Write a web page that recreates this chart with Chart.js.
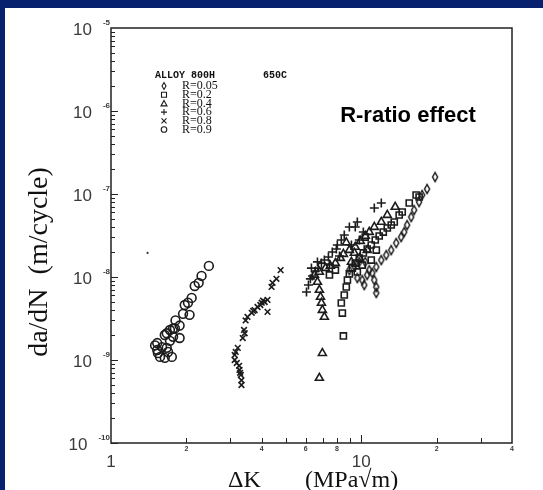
<!DOCTYPE html>
<html lang="en">
<head>
  <meta charset="UTF-8">
  <title>Alloy 800H - R-ratio effect</title>
  <script src="https://cdn.jsdelivr.net/npm/chart.js"></script>
  <style>
    html, body { margin: 0; padding: 0; }
    body { width: 543px; height: 490px; background: #07216f; position: relative; overflow: hidden; }
    #panel { position: absolute; left: 5px; top: 8px; right: 0; bottom: 0; background: #fff; }
    #chart { position: absolute; left: 0; top: 0; }
  </style>
</head>
<body>
  <div id="panel"></div>
  <canvas id="chart" width="543" height="490"></canvas>

  <script>
    // delta K (MPa*sqrt(m)) and da/dN (m/cycle) per R ratio
    const r005K    = [19.72, 18.32, 17.50, 17.02, 16.26, 15.83, 15.25, 14.84, 14.43, 13.79, 13.17, 12.58, 12.02, 11.48, 11.06, 11.27, 11.48, 11.48, 10.28, 10.09, 10.76, 10.56, 10.37, 9.82, 9.38, 8.96, 9.64];
    const r005Rate = [1.6e-7, 1.15e-7, 9.73e-8, 8.0e-8, 6.41e-8, 5.28e-8, 4.23e-8, 3.48e-8, 3.03e-8, 2.57e-8, 2.11e-8, 1.84e-8, 1.6e-8, 1.32e-8, 1.12e-8, 9.2e-9, 7.58e-9, 6.42e-9, 8.0e-9, 9.2e-9, 1.21e-8, 1.06e-8, 1.52e-8, 1.52e-8, 1.36e-8, 1.21e-8, 9.72e-9];

    const r02K    = [8.48, 8.40, 8.32, 8.55, 8.71, 8.80, 8.96, 9.21, 9.46, 9.82, 10.19, 10.56, 10.96, 11.37, 11.79, 12.24, 12.70, 13.17, 13.54, 14.17, 14.57, 15.54, 16.56, 17.02, 10.37, 10.96, 11.48, 9.64, 10.09, 7.46, 7.88];
    const r02Rate = [1.95e-9, 3.68e-9, 4.86e-9, 6.07e-9, 7.58e-9, 9.2e-9, 1.09e-8, 1.28e-8, 1.47e-8, 1.69e-8, 1.95e-8, 2.17e-8, 2.43e-8, 2.79e-8, 3.12e-8, 3.48e-8, 3.89e-8, 4.23e-8, 4.6e-8, 5.58e-8, 6.07e-8, 7.79e-8, 9.73e-8, 9.2e-8, 3.03e-8, 1.6e-8, 2.11e-8, 1.15e-8, 1.39e-8, 1.06e-8, 1.21e-8];

    const r04K    = [6.80, 6.99, 7.12, 6.99, 6.93, 6.87, 6.80, 6.68, 6.50, 6.80, 7.19, 7.52, 7.88, 8.25, 8.48, 8.96, 9.46, 9.91, 10.37, 10.76, 11.27, 12.02, 12.70, 13.66, 9.13, 9.82, 10.56, 9.38, 8.71];
    const r04Rate = [6.07e-10, 1.21e-9, 3.3e-9, 4.0e-9, 4.86e-9, 5.74e-9, 6.97e-9, 8.71e-9, 1.06e-8, 1.15e-8, 1.28e-8, 1.36e-8, 1.47e-8, 1.69e-8, 1.89e-8, 2.11e-8, 2.3e-8, 2.71e-8, 3.12e-8, 3.48e-8, 4.0e-8, 4.6e-8, 5.58e-8, 6.97e-8, 1.52e-8, 1.69e-8, 2.11e-8, 1.95e-8, 2.6e-8];

    const r06K    = [6.04, 6.15, 6.26, 6.38, 6.56, 6.74, 6.93, 7.12, 7.39, 7.66, 7.95, 8.02, 8.32, 8.55, 8.96, 9.46, 9.64, 11.27, 12.02, 6.32, 6.68, 7.46, 8.18, 9.13, 9.82, 10.19];
    const r06Rate = [6.6e-9, 8.0e-9, 9.5e-9, 1.03e-8, 1.18e-8, 1.28e-8, 1.47e-8, 1.6e-8, 1.74e-8, 2.0e-8, 2.17e-8, 2.43e-8, 2.79e-8, 3.21e-8, 4.0e-8, 4.0e-8, 4.6e-8, 6.78e-8, 7.79e-8, 1.28e-8, 1.52e-8, 1.43e-8, 1.79e-8, 2.43e-8, 2.79e-8, 3.48e-8];

    const r08K    = [4.76, 4.58, 4.42, 4.38, 4.22, 4.11, 4.00, 3.85, 4.22, 3.75, 3.65, 3.51, 3.45, 3.42, 3.36, 3.21, 3.12, 3.12, 3.18, 3.26, 3.30, 3.32, 3.32, 3.95, 4.05, 3.70, 3.40, 3.15, 3.25, 3.28];
    const r08Rate = [1.21e-8, 9.5e-9, 8.5e-9, 7.6e-9, 5.3e-9, 5.0e-9, 4.9e-9, 4.35e-9, 3.8e-9, 4.0e-9, 3.7e-9, 3.3e-9, 3.0e-9, 2.1e-9, 1.84e-9, 1.4e-9, 1.15e-9, 1.0e-9, 9.2e-10, 7.6e-10, 6.6e-10, 5.7e-10, 5.0e-10, 4.6e-9, 5.2e-9, 3.9e-9, 2.3e-9, 1.25e-9, 8.5e-10, 7.0e-10];

    const r09K    = [2.46, 2.30, 2.24, 2.16, 2.10, 2.03, 1.97, 1.94, 2.06, 1.88, 1.80, 1.72, 1.88, 1.77, 1.64, 1.53, 1.60, 1.67, 1.53, 1.57, 1.75, 1.64, 1.54, 1.69, 1.50, 1.72, 1.81, 1.67, 1.77];
    const r09Rate = [1.36e-8, 1.03e-8, 8.5e-9, 7.8e-9, 5.6e-9, 4.9e-9, 4.6e-9, 3.6e-9, 3.5e-9, 2.6e-9, 2.4e-9, 2.3e-9, 1.84e-9, 1.9e-9, 2.0e-9, 1.6e-9, 1.43e-9, 1.4e-9, 1.32e-9, 1.09e-9, 1.09e-9, 1.06e-9, 1.21e-9, 1.25e-9, 1.5e-9, 1.7e-9, 3.0e-9, 2.1e-9, 2.4e-9];

    // speck on the scanned page
    const speckK    = [1.40];
    const speckRate = [1.95e-8];

    const legendLabels = ['R=0.05', 'R=0.2', 'R=0.4', 'R=0.6', 'R=0.8', 'R=0.9'];
    const legendTitle = ['ALLOY 800H', '650C'];

    // axis ticks
    const xMin = 1, xMax = 40;
    const xTicks = [2, 3, 4, 5, 6, 7, 8, 9, 10, 20, 30];
    const xSmallLabels = { 2: '2', 4: '4', 6: '6', 8: '8', 20: '2', 40: '4' };
    const xBigLabels = { 1: '1', 10: '10' };
    const yExponents = [-5, -6, -7, -8, -9, -10];

    const ink = '#1c1c1c';

    function toPoints(ks, rates) {
      return ks.map((k, i) => ({ x: k, y: rates[i] }));
    }

    // narrow diamond, like the scanned symbol
    function diamondMarker(w, h) {
      const c = document.createElement('canvas');
      c.width = w + 3; c.height = h + 3;
      const g = c.getContext('2d');
      g.strokeStyle = ink;
      g.lineWidth = 1.5;
      g.beginPath();
      g.moveTo(c.width / 2, 1.5);
      g.lineTo(c.width - 1.5, c.height / 2);
      g.lineTo(c.width / 2, c.height - 1.5);
      g.lineTo(1.5, c.height / 2);
      g.closePath();
      g.stroke();
      return c;
    }

    function series(label, ks, rates, style, radius) {
      return {
        label: label,
        data: toPoints(ks, rates),
        pointStyle: style,
        pointRadius: radius,
        pointBorderColor: ink,
        pointBackgroundColor: 'rgba(0,0,0,0)',
        pointBorderWidth: 1.6
      };
    }

    function drawSymbol(ctx, kind, x, y) {
      ctx.beginPath();
      if (kind === 0) {
        ctx.moveTo(x, y - 3.5); ctx.lineTo(x + 2, y); ctx.lineTo(x, y + 3.5); ctx.lineTo(x - 2, y); ctx.closePath();
      } else if (kind === 1) {
        ctx.rect(x - 2.5, y - 2.5, 5, 5);
      } else if (kind === 2) {
        ctx.moveTo(x, y - 3); ctx.lineTo(x + 3, y + 2.5); ctx.lineTo(x - 3, y + 2.5); ctx.closePath();
      } else if (kind === 3) {
        ctx.moveTo(x - 3, y); ctx.lineTo(x + 3, y); ctx.moveTo(x, y - 3); ctx.lineTo(x, y + 3);
      } else if (kind === 4) {
        ctx.moveTo(x - 2.5, y - 2.5); ctx.lineTo(x + 2.5, y + 2.5); ctx.moveTo(x + 2.5, y - 2.5); ctx.lineTo(x - 2.5, y + 2.5);
      } else {
        ctx.arc(x, y, 2.8, 0, Math.PI * 2);
      }
      ctx.stroke();
    }

    const paperPlugin = {
      id: 'paper',
      afterDraw(chart) {
        const { ctx, chartArea: a, scales: { x, y } } = chart;
        ctx.save();

        // frame
        ctx.strokeStyle = '#222';
        ctx.lineWidth = 1.5;
        ctx.strokeRect(a.left, a.top, a.right - a.left, a.bottom - a.top);

        // y ticks, inward from the left axis
        ctx.lineWidth = 1;
        ctx.beginPath();
        yExponents.forEach(e => {
          if (e === -5) return;
          for (let m = 1; m <= 9; m++) {
            const py = Math.round(y.getPixelForValue(m * Math.pow(10, e))) + 0.5;
            const len = m === 1 ? 7 : 4;
            ctx.moveTo(a.left, py);
            ctx.lineTo(a.left + len, py);
          }
        });
        // x ticks, upward from the bottom axis
        xTicks.forEach(v => {
          const px = Math.round(x.getPixelForValue(v)) + 0.5;
          const len = v === 10 ? 8 : 5;
          ctx.moveTo(px, a.bottom);
          ctx.lineTo(px, a.bottom - len);
        });
        ctx.stroke();

        // y tick labels: 10 with a small exponent
        ctx.fillStyle = '#3a3a3a';
        ctx.textBaseline = 'middle';
        ctx.textAlign = 'right';
        yExponents.forEach(e => {
          const py = y.getPixelForValue(Math.pow(10, e));
          const sup = '-' + Math.abs(e);
          ctx.font = 'bold 8px "Liberation Sans", Arial, sans-serif';
          const w = ctx.measureText(sup).width;
          ctx.fillText(sup, a.left - 1, py - 5);
          ctx.font = '17px "Liberation Sans", Arial, sans-serif';
          ctx.fillText('10', a.left - w - 12, py + 2);
        });

        // x tick labels
        ctx.textAlign = 'center';
        ctx.font = 'bold 7px "Liberation Sans", Arial, sans-serif';
        Object.keys(xSmallLabels).forEach(v => {
          ctx.fillText(xSmallLabels[v], x.getPixelForValue(+v), a.bottom + 6);
        });
        ctx.font = '17px "Liberation Sans", Arial, sans-serif';
        Object.keys(xBigLabels).forEach(v => {
          ctx.fillText(xBigLabels[v], x.getPixelForValue(+v), a.bottom + 19);
        });

        // axis titles
        ctx.fillStyle = '#111';
        ctx.font = '24px "Liberation Serif", "Times New Roman", serif';
        ctx.textBaseline = 'alphabetic';
        ctx.textAlign = 'left';
        ctx.fillText('\u0394K', 228, 487);
        ctx.fillText('(MPa\u221Am)', 305, 487);

        ctx.save();
        ctx.translate(40, 262);
        ctx.rotate(-Math.PI / 2);
        ctx.textAlign = 'center';
        ctx.textBaseline = 'middle';
        ctx.font = '28px "Liberation Serif", "Times New Roman", serif';
        ctx.fillText('da/dN  (m/cycle)', 0, 0);
        ctx.restore();

        // legend block
        ctx.fillStyle = '#111';
        ctx.textBaseline = 'middle';
        ctx.textAlign = 'left';
        ctx.font = 'bold 10px "Liberation Mono", "Courier New", monospace';
        ctx.fillText(legendTitle[0], 155, 75);
        ctx.fillText(legendTitle[1], 263, 75);
        ctx.font = '12px "Liberation Serif", "Times New Roman", serif';
        ctx.strokeStyle = ink;
        ctx.lineWidth = 1.1;
        legendLabels.forEach((t, i) => {
          const ly = 86 + i * 8.7;
          drawSymbol(ctx, i, 164, ly);
          ctx.fillText(t, 182, ly);
        });

        // annotation
        ctx.fillStyle = '#000';
        ctx.font = 'bold 22px "Liberation Sans", Arial, sans-serif';
        ctx.textAlign = 'center';
        ctx.fillText('R-ratio effect', 408, 116);

        ctx.restore();
      }
    };

    const ctx = document.getElementById('chart').getContext('2d');
    new Chart(ctx, {
      type: 'scatter',
      data: {
        datasets: [
          series('R=0.05', r005K, r005Rate, diamondMarker(5, 9), 5),
          series('R=0.2', r02K, r02Rate, 'rect', 4.3),
          series('R=0.4', r04K, r04Rate, 'triangle', 4.6),
          series('R=0.6', r06K, r06Rate, 'cross', 4.5),
          series('R=0.8', r08K, r08Rate, 'crossRot', 4),
          series('R=0.9', r09K, r09Rate, 'circle', 4.4),
          {
            label: 'speck',
            data: toPoints(speckK, speckRate),
            pointRadius: 1.1,
            pointBorderWidth: 0,
            pointBackgroundColor: '#333'
          }
        ]
      },
      options: {
        responsive: false,
        animation: false,
        devicePixelRatio: 1,
        layout: { padding: { top: 28, right: 31, left: 0, bottom: 0 } },
        plugins: { legend: { display: false }, tooltip: { enabled: false } },
        scales: {
          x: {
            type: 'logarithmic', min: xMin, max: xMax,
            ticks: { display: false }, grid: { display: false }, border: { display: false },
            afterFit(s) { s.height = 47; }
          },
          y: {
            type: 'logarithmic', min: 1e-10, max: 1e-5,
            ticks: { display: false }, grid: { display: false }, border: { display: false },
            afterFit(s) { s.width = 111; }
          }
        }
      },
      plugins: [paperPlugin]
    });
  </script>
</body>
</html>
